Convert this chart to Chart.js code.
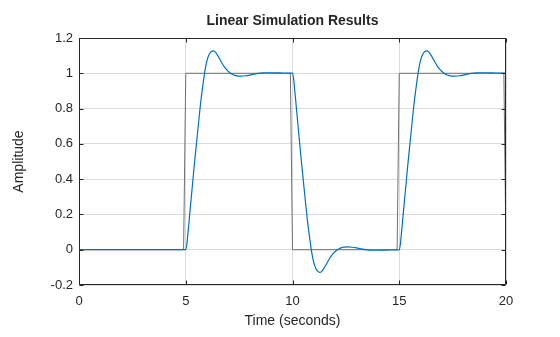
<!DOCTYPE html>
<html>
<head>
<meta charset="utf-8">
<script src="https://cdn.jsdelivr.net/npm/chart.js@4/dist/chart.umd.min.js"></script>
<style>
  html, body { margin: 0; padding: 0; background: #fff; }
  #c { display: block; }
</style>
</head>
<body>
<canvas id="c" width="560" height="337"></canvas>
<script>
// Square-wave input signal (seconds, amplitude)
const inputTimes  = [0, 4.9, 5, 9.9, 10, 14.9, 15, 19.9, 20];
const inputValues = [0, 0,   1, 1,   0,  0,    1,  1,    0];

// Simulated system response (seconds, amplitude)
const responseTimes = [
  0, 5,
  5.05, 5.1, 5.2, 5.3, 5.4, 5.5, 5.6, 5.7, 5.8, 5.9,
  6.0, 6.1, 6.2, 6.3, 6.4, 6.5, 6.6, 6.7, 6.8, 6.9,
  7.0, 7.1, 7.2, 7.3, 7.4, 7.6, 7.8, 8.0, 8.2, 8.4,
  8.6, 8.8, 9.0, 9.4, 9.8, 10.0,
  10.05, 10.1, 10.2, 10.3, 10.4, 10.5, 10.6, 10.7, 10.8, 10.9,
  11.0, 11.1, 11.2, 11.3, 11.4, 11.5, 11.6, 11.7, 11.8, 11.9,
  12.0, 12.1, 12.2, 12.3, 12.4, 12.6, 12.8, 13.0, 13.2, 13.4,
  13.6, 13.8, 14.0, 14.4, 14.8, 15.0,
  15.05, 15.1, 15.2, 15.3, 15.4, 15.5, 15.6, 15.7, 15.8, 15.9,
  16.0, 16.1, 16.2, 16.3, 16.4, 16.5, 16.6, 16.7, 16.8, 16.9,
  17.0, 17.1, 17.2, 17.3, 17.4, 17.6, 17.8, 18.0, 18.2, 18.4,
  18.6, 18.8, 19.0, 19.4, 19.8, 20.0
];
const responseValues = [
  0, 0,
  0.03, 0.09, 0.22, 0.35, 0.48, 0.60, 0.72, 0.835, 0.93, 1.015,
  1.075, 1.108, 1.124, 1.127, 1.118, 1.100, 1.079, 1.057, 1.038, 1.022,
  1.010, 1.000, 0.993, 0.988, 0.985, 0.984, 0.986, 0.990, 0.995, 0.999,
  1.002, 1.003, 1.003, 1.002, 1.001, 1.001,
  0.97, 0.91, 0.78, 0.65, 0.52, 0.40, 0.28, 0.165, 0.07, -0.015,
  -0.075, -0.108, -0.124, -0.128, -0.118, -0.100, -0.079, -0.057, -0.038, -0.022,
  -0.010, 0.000, 0.007, 0.012, 0.015, 0.016, 0.014, 0.010, 0.005, 0.001,
  -0.002, -0.003, -0.003, -0.002, -0.001, -0.001,
  0.03, 0.09, 0.22, 0.35, 0.48, 0.60, 0.72, 0.835, 0.93, 1.015,
  1.075, 1.108, 1.124, 1.127, 1.118, 1.100, 1.079, 1.057, 1.038, 1.022,
  1.010, 1.000, 0.993, 0.988, 0.985, 0.984, 0.986, 0.990, 0.995, 0.999,
  1.002, 1.003, 1.003, 1.002, 1.001, 1.000
];

const xTicks = [0, 5, 10, 15, 20];
const yTicks = [-0.2, 0, 0.2, 0.4, 0.6, 0.8, 1, 1.2];

const toPoints = (xs, ys) => xs.map((x, i) => ({ x: x, y: ys[i] }));

const FONT = '"Liberation Sans", Arial, Helvetica, sans-serif';
const INK = '#262626';

// Axes box with short inward tick marks on all four sides
const boxPlugin = {
  id: 'axesBox',
  afterDraw(chart) {
    const { ctx, chartArea: a, scales } = chart;
    const len = 4;
    ctx.save();
    ctx.strokeStyle = INK;
    ctx.lineWidth = 1;
    ctx.beginPath();
    const L = Math.round(a.left) + 0.5, R = Math.round(a.right) - 0.5;
    const T = Math.round(a.top) + 0.5, B = Math.round(a.bottom) - 0.5;
    ctx.rect(L, T, R - L, B - T);
    xTicks.forEach(v => {
      const px = Math.round(scales.x.getPixelForValue(v)) + 0.5;
      ctx.moveTo(px, B); ctx.lineTo(px, B - len);
      ctx.moveTo(px, T); ctx.lineTo(px, T + len);
    });
    yTicks.forEach(v => {
      const py = Math.round(scales.y.getPixelForValue(v)) + 0.5;
      ctx.moveTo(L, py); ctx.lineTo(L + len, py);
      ctx.moveTo(R, py); ctx.lineTo(R - len, py);
    });
    ctx.stroke();
    ctx.restore();
  }
};

new Chart(document.getElementById('c'), {
  type: 'line',
  data: {
    datasets: [
      {
        label: 'Response',
        data: toPoints(responseTimes, responseValues),
        borderColor: '#0072BD',
        borderWidth: 1.2,
        pointRadius: 0,
        cubicInterpolationMode: 'monotone',
        fill: false,
        order: 0
      },
      {
        label: 'Input',
        data: toPoints(inputTimes, inputValues),
        borderColor: '#707070',
        borderWidth: 1,
        pointRadius: 0,
        tension: 0,
        fill: false,
        order: 1
      }
    ]
  },
  options: {
    responsive: false,
    animation: false,
    events: [],
    layout: { padding: { left: 0, right: 54, top: 0, bottom: 0 } },
    plugins: {
      legend: { display: false },
      tooltip: { enabled: false },
      title: {
        display: true,
        text: 'Linear Simulation Results',
        fullSize: false,
        color: INK,
        font: { family: FONT, size: 14, weight: 'bold' },
        padding: { top: 12.5, bottom: 8.7 }
      }
    },
    scales: {
      x: {
        type: 'linear',
        min: 0, max: 20,
        afterBuildTicks: s => { s.ticks = xTicks.map(v => ({ value: v })); },
        afterFit: s => { s.height = 52; },
        ticks: {
          color: INK,
          font: { family: FONT, size: 13 },
          padding: 9,
          maxRotation: 0,
          callback: v => String(v)
        },
        grid: { color: '#dcdcdc', drawTicks: false, lineWidth: 1 },
        border: { display: false },
        title: {
          display: true,
          text: 'Time (seconds)',
          color: INK,
          font: { family: FONT, size: 14 },
          padding: { top: 0, bottom: 7.8 }
        }
      },
      y: {
        type: 'linear',
        min: -0.2, max: 1.2,
        afterBuildTicks: s => { s.ticks = yTicks.map(v => ({ value: v })); },
        afterFit: s => { s.width = 79; },
        ticks: {
          color: INK,
          font: { family: FONT, size: 13 },
          padding: 6,
          callback: v => String(Math.round(v * 10) / 10)
        },
        grid: { color: '#dcdcdc', drawTicks: false, lineWidth: 1 },
        border: { display: false },
        title: {
          display: true,
          text: 'Amplitude',
          color: INK,
          font: { family: FONT, size: 14 },
          padding: { top: 10.5, bottom: 0 }
        }
      }
    }
  },
  plugins: [boxPlugin]
});
</script>
</body>
</html>
